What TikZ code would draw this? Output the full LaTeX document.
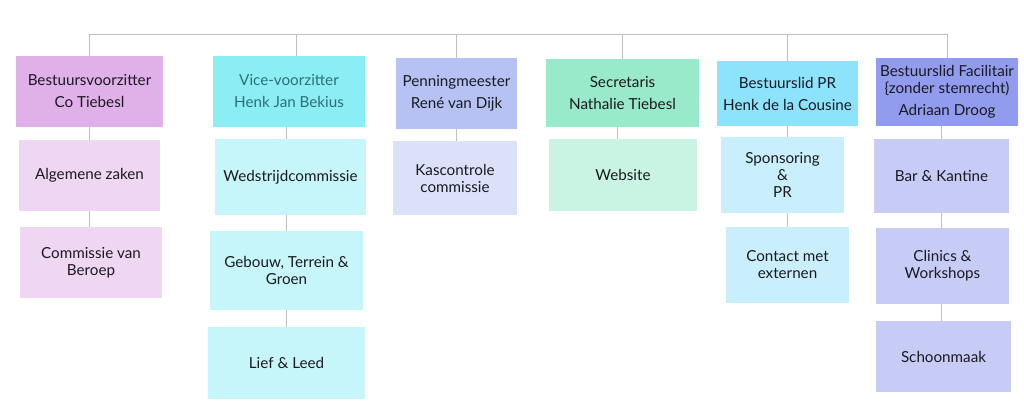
\documentclass[tikz,border=0pt]{standalone}
\usepackage{fontspec}
\setmainfont{Lato}
\definecolor{lijn}{HTML}{BEBEC4}
\definecolor{tekst}{HTML}{1A1A20}
\definecolor{paars}{HTML}{E0B0E8}
\definecolor{paarslicht}{HTML}{EFD7F3}
\definecolor{cyaan}{HTML}{8BEEF5}
\definecolor{cyaanlicht}{HTML}{C6F6FA}
\definecolor{blauw}{HTML}{B6C2F4}
\definecolor{blauwlicht}{HTML}{DCE1FA}
\definecolor{groen}{HTML}{98EACA}
\definecolor{groenlicht}{HTML}{C9F4E3}
\definecolor{lucht}{HTML}{8DE2FC}
\definecolor{luchtlicht}{HTML}{C9EFFC}
\definecolor{indigo}{HTML}{919CEF}
\definecolor{indigolicht}{HTML}{C7CCF7}
\definecolor{teal}{HTML}{2F6E74}
\tikzset{
    box/.style={align=center, inner sep=0pt, text=tekst,
        font=\fontsize{15.2}{22}\selectfont},
    sub/.style={box, font=\fontsize{15.2}{17}\selectfont},
    link/.style={draw=lijn, line width=1pt}
}
\begin{document}
\begin{tikzpicture}[x=1pt,y=-1pt]
                    \useasboundingbox (0,0) rectangle (1024,407);
                    % bestuur
                    \node[box, fill=paars, minimum width=147pt, minimum height=71pt] (voorz) at (89.5,91.5) {Bestuursvoorzitter\\Co Tiebesl};
                    \node[box, fill=cyaan, text=teal, minimum width=152pt, minimum height=71pt] (vice) at (289,91.5) {Vice-voorzitter\\Henk Jan Bekius};
                    \node[box, fill=blauw, minimum width=121pt, minimum height=71pt] (penning) at (456.5,93.5) {Penningmeester\\René van Dijk};
                    \node[box, fill=groen, minimum width=153pt, minimum height=68pt] (secr) at (622.5,93) {Secretaris\\Nathalie Tiebesl};
                    \node[box, fill=lucht, minimum width=141pt, minimum height=65pt] (pr) at (787.5,93.5) {Bestuurslid PR\\Henk de la Cousine};
                    \node[box, fill=indigo, minimum width=142pt, minimum height=68pt] (facil) at (947,92) {Bestuurslid Facilitair\\[-5pt]\{zonder stemrecht)\\Adriaan Droog};
                    % commissies
                    \node[sub, fill=paarslicht, minimum width=141pt, minimum height=71pt] (algemeen) at (89.5,175.5) {Algemene zaken};
                    \node[sub, fill=paarslicht, minimum width=142pt, minimum height=71pt] (beroep) at (91,262.5) {Commissie van\\Beroep};
                    \node[sub, fill=cyaanlicht, minimum width=151pt, minimum height=76pt] (wedstrijd) at (290.5,177) {Wedstrijdcommissie};
                    \node[sub, fill=cyaanlicht, minimum width=153pt, minimum height=79pt] (gebouw) at (286.5,270.5) {Gebouw, Terrein \&\\Groen};
                    \node[sub, fill=cyaanlicht, minimum width=157pt, minimum height=72pt] (lief) at (286.5,363) {Lief \& Leed};
                    \node[sub, fill=blauwlicht, minimum width=124pt, minimum height=74pt] (kas) at (455,178) {Kascontrole\\commissie};
                    \node[sub, fill=groenlicht, minimum width=148pt, minimum height=72pt] (website) at (623,175) {Website};
                    \node[sub, fill=luchtlicht, minimum width=123pt, minimum height=76pt] (sponsor) at (782.5,175) {Sponsoring\\\&\\PR};
                    \node[sub, fill=luchtlicht, minimum width=123pt, minimum height=76pt] (extern) at (787.5,265) {Contact met\\externen};
                    \node[sub, fill=indigolicht, minimum width=135pt, minimum height=74pt] (bar) at (941.5,176) {Bar \& Kantine};
                    \node[sub, fill=indigolicht, minimum width=133pt, minimum height=76pt] (clinics) at (942.5,266) {Clinics \&\\Workshops};
                    \node[sub, fill=indigolicht, minimum width=135pt, minimum height=71pt] (schoon) at (943.5,356.5) {Schoonmaak};
                    % lijnen
                    \coordinate (bus) at (0,34);
                    \draw[link] (voorz.north) -- (voorz.north |- bus) -- (facil.north |- bus) -- (facil.north);
                    \draw[link] ([xshift=7pt]vice.north) -- ([xshift=7pt]vice.north |- bus);
                    \draw[link] (penning.north) -- (penning.north |- bus);
                    \draw[link] (secr.north) -- (secr.north |- bus);
                    \draw[link] (pr.north) -- (pr.north |- bus);
                    \draw[link] (algemeen.north) -- (algemeen.north |- voorz.south);
                    \draw[link] (beroep.north -| algemeen) -- (algemeen.south);
                    \draw[link] (gebouw.north |- wedstrijd.north) -- (gebouw.north |- vice.south);
                    \draw[link] (gebouw.north) -- (gebouw.north |- wedstrijd.south);
                    \draw[link] (lief.north) -- (lief.north |- gebouw.south);
                    \draw[link] (kas.north -| penning) -- (penning.south);
                    \draw[link] ([xshift=-6pt]website.north) -- ([xshift=-6pt]website.north |- secr.south);
                    \draw[link] (extern.north |- sponsor.north) -- (extern.north |- pr.south);
                    \draw[link] (extern.north) -- (extern.north |- sponsor.south);
                    \draw[link] (bar.north) -- (bar.north |- facil.south);
                    \draw[link] (clinics.north -| bar) -- (bar.south);
                    \draw[link] (schoon.north -| bar) -- (bar.south |- clinics.south);
                \end{tikzpicture}
\end{document}
